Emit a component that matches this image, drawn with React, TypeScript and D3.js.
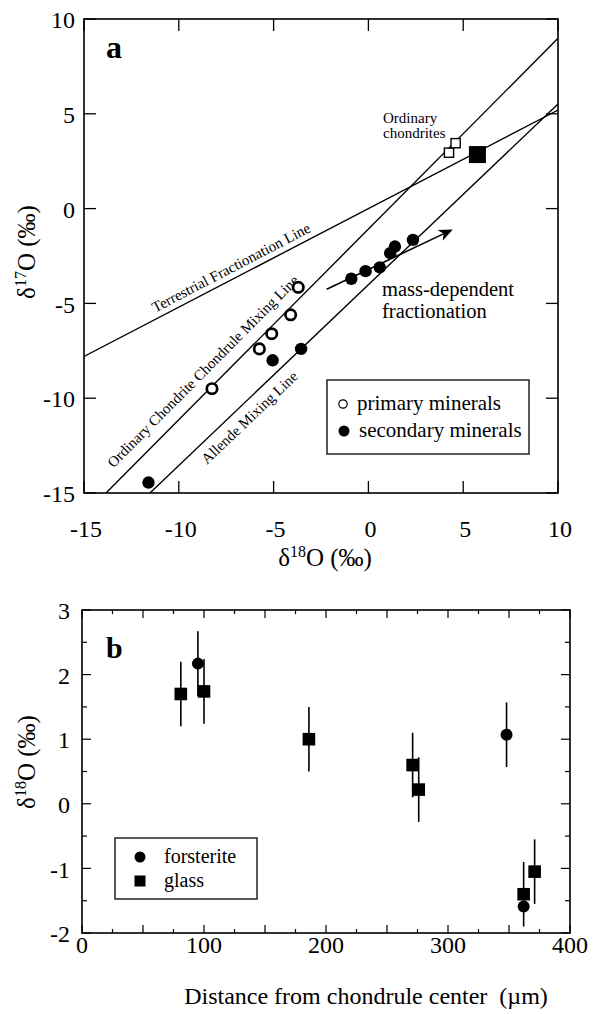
import React, { useEffect, useRef } from 'react';
import * as d3 from 'd3';

// ---- panel a: three-oxygen-isotope diagram (d18O, d17O in permil) ----
const primaryMinerals: [number, number][] = [
  [-8.25, -9.5], [-5.75, -7.4], [-5.1, -6.6], [-4.1, -5.6], [-3.7, -4.15],
];
const secondaryMinerals: [number, number][] = [
  [-11.6, -14.45], [-5.05, -8.0], [-3.55, -7.4], [-0.9, -3.7], [-0.15, -3.3],
  [0.6, -3.1], [1.15, -2.35], [1.4, -2.0], [2.35, -1.65],
];
const ordinaryChondrites: [number, number][] = [[4.25, 2.95], [4.6, 3.45]];
const bulkChondrule: [number, number][] = [[5.75, 2.85]];
const lineNames = ['Terrestrial Fractionation Line', 'Ordinary Chondrite Chondrule Mixing Line', 'Allende Mixing Line'];
const lineStarts: [number, number][] = [[-15, -7.8], [-13.84, -15], [-11.52, -15]];
const lineEnds: [number, number][] = [[10, 5.2], [10, 8.98], [10, 5.52]];
const mdfArrow: [number, number][] = [[-2.2, -4.25], [4.45, -1.1]];
const ticksA = [-15, -10, -5, 0, 5, 10];

// ---- panel b: d18O profile across the chondrule ----
const forsterite = [
  { dist: 95, d18: 2.17, err: 0.5 },
  { dist: 348, d18: 1.07, err: 0.5 },
  { dist: 362, d18: -1.59, err: 0 },
];
const glass = [
  { dist: 81, d18: 1.7, err: 0.5 },
  { dist: 100, d18: 1.74, err: 0.5 },
  { dist: 186, d18: 1.0, err: 0.5 },
  { dist: 271, d18: 0.6, err: 0.5 },
  { dist: 276, d18: 0.22, err: 0.5 },
  { dist: 362, d18: -1.4, err: 0.5 },
  { dist: 371, d18: -1.05, err: 0.5 },
];
const ticksBx = [0, 100, 200, 300, 400];
const ticksBy = [-2, -1, 0, 1, 2, 3];

const FONT = '"Liberation Serif", "Times New Roman", serif';

const App = () => {
  const svgRef = useRef<SVGSVGElement>(null);

  useEffect(() => {
    const svg = d3.select(svgRef.current);
    svg.selectAll('*').remove();
    svg.attr('font-family', FONT);

    // ================= panel a =================
    const x = d3.scaleLinear().domain([-15, 10]).range([84, 558]);
    const y = d3.scaleLinear().domain([-15, 10]).range([493, 19]);
    const ga = svg.append('g');

    ga.append('defs').append('clipPath').attr('id', 'clipA')
      .append('rect').attr('x', 84).attr('y', 19).attr('width', 474).attr('height', 474);

    // frame + ticks
    ga.append('rect').attr('x', 84).attr('y', 19).attr('width', 474).attr('height', 474)
      .attr('fill', 'none').attr('stroke', '#000').attr('stroke-width', 1.6);
    ticksA.forEach(t => {
      [[x(t), 493, x(t), 481], [x(t), 19, x(t), 31], [84, y(t), 96, y(t)], [558, y(t), 546, y(t)]]
        .forEach(([x1, y1, x2, y2]) => {
          ga.append('line').attr('x1', x1).attr('y1', y1).attr('x2', x2).attr('y2', y2)
            .attr('stroke', '#000').attr('stroke-width', 1.3);
        });
      ga.append('text').attr('x', 75).attr('y', y(t)).attr('dy', '0.38em')
        .attr('text-anchor', 'end').attr('font-size', 24).text(t);
      ga.append('text').attr('x', x(t) + 2).attr('y', 537)
        .attr('text-anchor', 'middle').attr('font-size', 24).text(t);
    });

    // reference lines + labels
    const lg = ga.append('g').attr('clip-path', 'url(#clipA)');
    const labelAt = [-11.1, -13.0, -9.2];
    const labelDy = [-6, -12, 19];
    lineNames.forEach((name, i) => {
      const [a, b] = [lineStarts[i], lineEnds[i]];
      lg.append('line').attr('x1', x(a[0])).attr('y1', y(a[1])).attr('x2', x(b[0])).attr('y2', y(b[1]))
        .attr('stroke', '#000').attr('stroke-width', 1.4);
      const k = (b[1] - a[1]) / (b[0] - a[0]);
      const lx = labelAt[i];
      const ly = a[1] + k * (lx - a[0]);
      const ang = Math.atan2(y(b[1]) - y(a[1]), x(b[0]) - x(a[0])) * 180 / Math.PI;
      ga.append('text')
        .attr('transform', `translate(${x(lx)},${y(ly)}) rotate(${ang})`)
        .attr('dy', labelDy[i]).attr('font-size', 15).text(name);
    });

    // mass-dependent fractionation arrow
    const [p0, p1] = mdfArrow.map(p => [x(p[0]), y(p[1])]);
    const aAng = Math.atan2(p1[1] - p0[1], p1[0] - p0[0]);
    ga.append('line').attr('x1', p0[0]).attr('y1', p0[1])
      .attr('x2', p1[0] - 8 * Math.cos(aAng)).attr('y2', p1[1] - 8 * Math.sin(aAng))
      .attr('stroke', '#000').attr('stroke-width', 1.6);
    ga.append('path')
      .attr('d', 'M0,0 L-14,-6 L-10,0 L-14,6 Z')
      .attr('transform', `translate(${p1[0]},${p1[1]}) rotate(${aAng * 180 / Math.PI})`)
      .attr('fill', '#000');
    ga.append('text').attr('x', 382).attr('y', 296).attr('font-size', 20.5).text('mass-dependent');
    ga.append('text').attr('x', 382).attr('y', 318).attr('font-size', 20.5).text('fractionation');

    // markers
    ga.selectAll('circle.prim').data(primaryMinerals).join('circle').attr('class', 'prim')
      .attr('cx', d => x(d[0])).attr('cy', d => y(d[1])).attr('r', 5.2)
      .attr('fill', '#fff').attr('stroke', '#000').attr('stroke-width', 2.7);
    ga.selectAll('circle.sec').data(secondaryMinerals).join('circle').attr('class', 'sec')
      .attr('cx', d => x(d[0])).attr('cy', d => y(d[1])).attr('r', 6.2).attr('fill', '#000');
    ga.selectAll('rect.oc').data(ordinaryChondrites).join('rect').attr('class', 'oc')
      .attr('x', d => x(d[0]) - 4.6).attr('y', d => y(d[1]) - 4.6).attr('width', 9.2).attr('height', 9.2)
      .attr('fill', '#fff').attr('stroke', '#000').attr('stroke-width', 1.4);
    ga.selectAll('rect.bulk').data(bulkChondrule).join('rect').attr('class', 'bulk')
      .attr('x', d => x(d[0]) - 8.5).attr('y', d => y(d[1]) - 8.5).attr('width', 17).attr('height', 17)
      .attr('fill', '#000');
    ga.append('text').attr('x', 383).attr('y', 123).attr('font-size', 15).text('Ordinary');
    ga.append('text').attr('x', 383).attr('y', 138).attr('font-size', 15).text('chondrites');

    // legend a
    ga.append('rect').attr('x', 327).attr('y', 380).attr('width', 202).attr('height', 74)
      .attr('fill', '#fff').attr('stroke', '#000').attr('stroke-width', 1.3);
    ga.append('circle').attr('cx', 343).attr('cy', 404).attr('r', 4.2)
      .attr('fill', '#fff').attr('stroke', '#000').attr('stroke-width', 1.2);
    ga.append('text').attr('x', 357).attr('y', 410).attr('font-size', 21).text('primary minerals');
    ga.append('circle').attr('cx', 344).attr('cy', 431).attr('r', 5.5).attr('fill', '#000');
    ga.append('text').attr('x', 359).attr('y', 437).attr('font-size', 21).text('secondary minerals');

    ga.append('text').attr('x', 106).attr('y', 58).attr('font-size', 32).attr('font-weight', 'bold').text('a');

    // axis titles a
    const tx = ga.append('text').attr('x', 325).attr('y', 566).attr('text-anchor', 'middle').attr('font-size', 25);
    tx.append('tspan').text('δ');
    tx.append('tspan').attr('font-size', 16).attr('dy', -9).text('18');
    tx.append('tspan').attr('dy', 9).text('O (‰)');
    const ty = ga.append('text').attr('transform', 'translate(35,252) rotate(-90)')
      .attr('text-anchor', 'middle').attr('font-size', 25);
    ty.append('tspan').text('δ');
    ty.append('tspan').attr('font-size', 16).attr('dy', -9).text('17');
    ty.append('tspan').attr('dy', 9).text('O (‰)');

    // ================= panel b =================
    const xb = d3.scaleLinear().domain([0, 400]).range([82, 570]);
    const yb = d3.scaleLinear().domain([-2, 3]).range([933, 610]);
    const gb = svg.append('g');

    gb.append('rect').attr('x', 82).attr('y', 610).attr('width', 488).attr('height', 323)
      .attr('fill', 'none').attr('stroke', '#000').attr('stroke-width', 1.6);
    d3.range(0, 401, 25).forEach(t => {
      const len = t % 50 === 0 ? 8 : 4;
      gb.append('line').attr('x1', xb(t)).attr('x2', xb(t)).attr('y1', 933).attr('y2', 933 - len)
        .attr('stroke', '#000').attr('stroke-width', 1.2);
      gb.append('line').attr('x1', xb(t)).attr('x2', xb(t)).attr('y1', 610).attr('y2', 610 + len)
        .attr('stroke', '#000').attr('stroke-width', 1.2);
    });
    d3.range(-2, 3.01, 0.5).forEach(t => {
      const len = Number.isInteger(t) ? 9 : 5;
      gb.append('line').attr('x1', 82).attr('x2', 82 + len).attr('y1', yb(t)).attr('y2', yb(t))
        .attr('stroke', '#000').attr('stroke-width', 1.2);
      gb.append('line').attr('x1', 570).attr('x2', 570 - len).attr('y1', yb(t)).attr('y2', yb(t))
        .attr('stroke', '#000').attr('stroke-width', 1.2);
    });
    ticksBx.forEach(t => {
      gb.append('text').attr('x', xb(t)).attr('y', 953).attr('text-anchor', 'middle')
        .attr('font-size', 24).text(t);
    });
    ticksBy.forEach(t => {
      gb.append('text').attr('x', 70).attr('y', yb(t)).attr('dy', '0.38em').attr('text-anchor', 'end')
        .attr('font-size', 24).text(t);
    });

    // error bars
    [...forsterite, ...glass].filter(d => d.err > 0).forEach(d => {
      gb.append('line').attr('x1', xb(d.dist)).attr('x2', xb(d.dist))
        .attr('y1', yb(d.d18 - d.err)).attr('y2', yb(d.d18 + d.err))
        .attr('stroke', '#000').attr('stroke-width', 1.6);
    });
    gb.selectAll('circle.fo').data(forsterite).join('circle').attr('class', 'fo')
      .attr('cx', d => xb(d.dist)).attr('cy', d => yb(d.d18)).attr('r', 6).attr('fill', '#000');
    gb.selectAll('rect.gl').data(glass).join('rect').attr('class', 'gl')
      .attr('x', d => xb(d.dist) - 6.3).attr('y', d => yb(d.d18) - 6.3)
      .attr('width', 12.6).attr('height', 12.6).attr('fill', '#000');

    // legend b
    gb.append('rect').attr('x', 115).attr('y', 838).attr('width', 142).attr('height', 61)
      .attr('fill', '#fff').attr('stroke', '#000').attr('stroke-width', 1.3);
    gb.append('circle').attr('cx', 140).attr('cy', 857).attr('r', 5.5).attr('fill', '#000');
    gb.append('text').attr('x', 164).attr('y', 863).attr('font-size', 20).text('forsterite');
    gb.append('rect').attr('x', 134.5).attr('y', 875.5).attr('width', 11).attr('height', 11).attr('fill', '#000');
    gb.append('text').attr('x', 164).attr('y', 887).attr('font-size', 20).text('glass');

    gb.append('text').attr('x', 106).attr('y', 658).attr('font-size', 30).attr('font-weight', 'bold').text('b');

    // axis titles b
    gb.append('text').attr('x', 366).attr('y', 1004).attr('text-anchor', 'middle')
      .attr('font-size', 24).style('white-space', 'pre')
      .text('Distance from chondrule center  (µm)');
    const tyb = gb.append('text').attr('transform', 'translate(35,762) rotate(-90)')
      .attr('text-anchor', 'middle').attr('font-size', 25);
    tyb.append('tspan').text('δ');
    tyb.append('tspan').attr('font-size', 16).attr('dy', -9).text('18');
    tyb.append('tspan').attr('dy', 9).text('O (‰)');
  }, []);

  return (
    <svg
      ref={svgRef}
      width={596}
      height={1014}
      style={{ position: 'absolute', left: 0, top: 0, background: '#fff' }}
    />
  );
};

export default App;
